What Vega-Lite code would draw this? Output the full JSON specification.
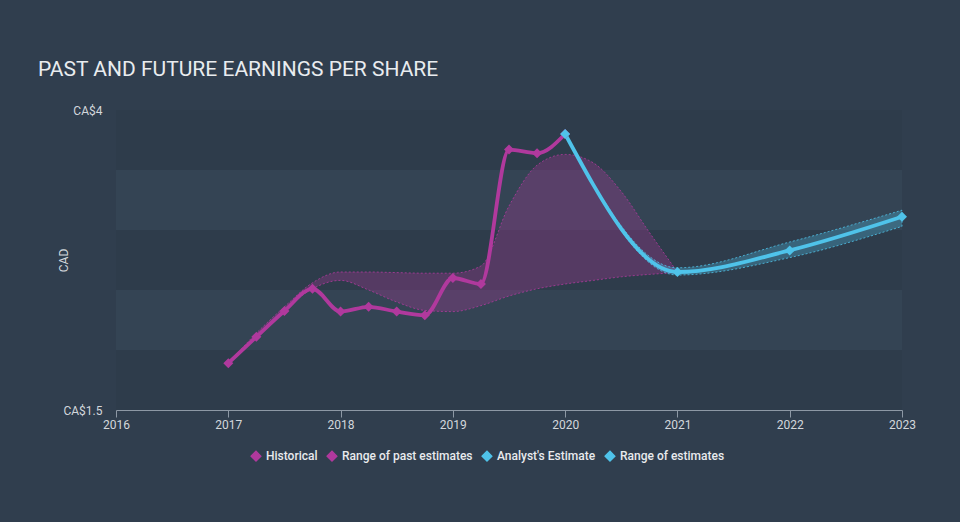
{
"$schema": "https://vega.github.io/schema/vega-lite/v6.json",
"width": 786, "height": 300,
"autosize": "none",
"padding": {"left": 116, "top": 110, "right": 58, "bottom": 112},
"background": "#303e4e",
"title": {"text": "PAST AND FUTURE EARNINGS PER SHARE", "anchor": "start", "frame": "group", "dx": -78, "offset": 24, "fontSize": 21, "fontWeight": "normal", "font": "Roboto", "color": "#e9ecef"},
"config": {"view": {"stroke": null, "fill": "#344454"}, "font": "Roboto"},
"datasets": {
"bands": [{"low": 1.5, "high": 2}, {"low": 2.5, "high": 3}, {"low": 3.5, "high": 4}],
"pastRange": [
{"year": 2017.0, "low": 1.89, "high": 1.89},
{"year": 2017.25, "low": 2.11, "high": 2.14},
{"year": 2017.5, "low": 2.33, "high": 2.36},
{"year": 2017.75, "low": 2.51, "high": 2.56},
{"year": 2018.0, "low": 2.58, "high": 2.65},
{"year": 2018.25, "low": 2.5, "high": 2.65},
{"year": 2018.5, "low": 2.4, "high": 2.645},
{"year": 2018.75, "low": 2.33, "high": 2.64},
{"year": 2019.0, "low": 2.32, "high": 2.64},
{"year": 2019.25, "low": 2.37, "high": 2.7},
{"year": 2019.5, "low": 2.45, "high": 3.2},
{"year": 2019.75, "low": 2.51, "high": 3.54},
{"year": 2020.0, "low": 2.55, "high": 3.63},
{"year": 2020.25, "low": 2.58, "high": 3.56},
{"year": 2020.5, "low": 2.61, "high": 3.32},
{"year": 2020.75, "low": 2.63, "high": 2.98},
{"year": 2021.0, "low": 2.645, "high": 2.65}
],
"estRange": [
{"year": 2020.0, "low": 3.8, "high": 3.8},
{"year": 2021.0, "low": 2.625, "high": 2.685},
{"year": 2022.0, "low": 2.77, "high": 2.9},
{"year": 2023.0, "low": 3.03, "high": 3.165}
],
"eps": [
{"series": "Historical", "year": 2017.0, "value": 1.89},
{"series": "Historical", "year": 2017.25, "value": 2.11},
{"series": "Historical", "year": 2017.5, "value": 2.325},
{"series": "Historical", "year": 2017.75, "value": 2.51},
{"series": "Historical", "year": 2018.0, "value": 2.32},
{"series": "Historical", "year": 2018.25, "value": 2.36},
{"series": "Historical", "year": 2018.5, "value": 2.32},
{"series": "Historical", "year": 2018.75, "value": 2.29},
{"series": "Historical", "year": 2019.0, "value": 2.6},
{"series": "Historical", "year": 2019.25, "value": 2.55},
{"series": "Historical", "year": 2019.5, "value": 3.67},
{"series": "Historical", "year": 2019.75, "value": 3.64},
{"series": "Historical", "year": 2020.0, "value": 3.8},
{"series": "Analyst's Estimate", "year": 2020.0, "value": 3.8},
{"series": "Analyst's Estimate", "year": 2021.0, "value": 2.65},
{"series": "Analyst's Estimate", "year": 2022.0, "value": 2.83},
{"series": "Analyst's Estimate", "year": 2023.0, "value": 3.11}
]
},
"layer": [
{
"data": {"name": "bands"},
"mark": {"type": "rect", "color": "#2e3c4b"},
"encoding": {
"y": {"field": "low", "type": "quantitative", "scale": {"domain": [1.5, 4], "nice": false, "zero": false},
"axis": {"title": "CAD", "values": [1.5, 4], "labelExpr": "'CA$' + datum.value", "grid": false, "domain": false, "ticks": false, "labelPadding": 14, "labelColor": "#d3d7dc", "labelFontSize": 12, "titleColor": "#d3d7dc", "titleFontSize": 12, "titleFontWeight": "normal", "titleX": -53, "titleY": 150, "titleAngle": -90, "titleAlign": "center", "titleBaseline": "middle"}},
"y2": {"field": "high"}
}
},
{
"data": {"name": "pastRange"},
"mark": {"type": "area", "interpolate": "monotone", "fillOpacity": 0.3, "strokeDash": [2, 2], "strokeWidth": 1, "strokeOpacity": 0.8, "stroke": "#b0399d"},
"encoding": {
"x": {"field": "year", "type": "quantitative", "scale": {"domain": [2016, 2023], "nice": false, "zero": false},
"axis": {"title": null, "values": [2016, 2017, 2018, 2019, 2020, 2021, 2022, 2023], "format": "d", "grid": false, "domainColor": "#8d98a5", "tickColor": "#8d98a5", "tickSize": 7, "labelColor": "#d3d7dc", "labelFontSize": 12, "labelPadding": 2, "labelFlush": false}},
"y": {"field": "low", "type": "quantitative"},
"y2": {"field": "high"},
"color": {"datum": "Range of past estimates"}
}
},
{
"data": {"name": "estRange"},
"mark": {"type": "area", "interpolate": "monotone", "fillOpacity": 0.3, "strokeDash": [2, 2], "strokeWidth": 1, "strokeOpacity": 0.8, "stroke": "#4fc3ea"},
"encoding": {
"x": {"field": "year", "type": "quantitative"},
"y": {"field": "low", "type": "quantitative"},
"y2": {"field": "high"},
"color": {"datum": "Range of estimates"}
}
},
{
"data": {"name": "eps"},
"mark": {"type": "line", "interpolate": "monotone", "strokeWidth": 3.8},
"encoding": {
"x": {"field": "year", "type": "quantitative"},
"y": {"field": "value", "type": "quantitative"},
"color": {"field": "series", "type": "nominal",
"scale": {"domain": ["Historical", "Range of past estimates", "Analyst's Estimate", "Range of estimates"], "range": ["#b0399d", "#b0399d", "#4fc3ea", "#4fc3ea"]},
"legend": {"orient": "none", "legendX": 134, "legendY": 340, "direction": "horizontal", "title": null, "padding": 0, "labelColor": "#e8eaed", "labelFont": "Roboto", "labelFontSize": 12, "labelFontWeight": 500, "symbolType": "diamond", "symbolSize": 90, "columnPadding": 6, "labelOffset": 4}}
}
},
{
"data": {"name": "eps"},
"mark": {"type": "point", "shape": "diamond", "filled": true, "size": 100, "opacity": 1},
"encoding": {
"x": {"field": "year", "type": "quantitative"},
"y": {"field": "value", "type": "quantitative"},
"color": {"field": "series", "type": "nominal"}
}
}
]
}
